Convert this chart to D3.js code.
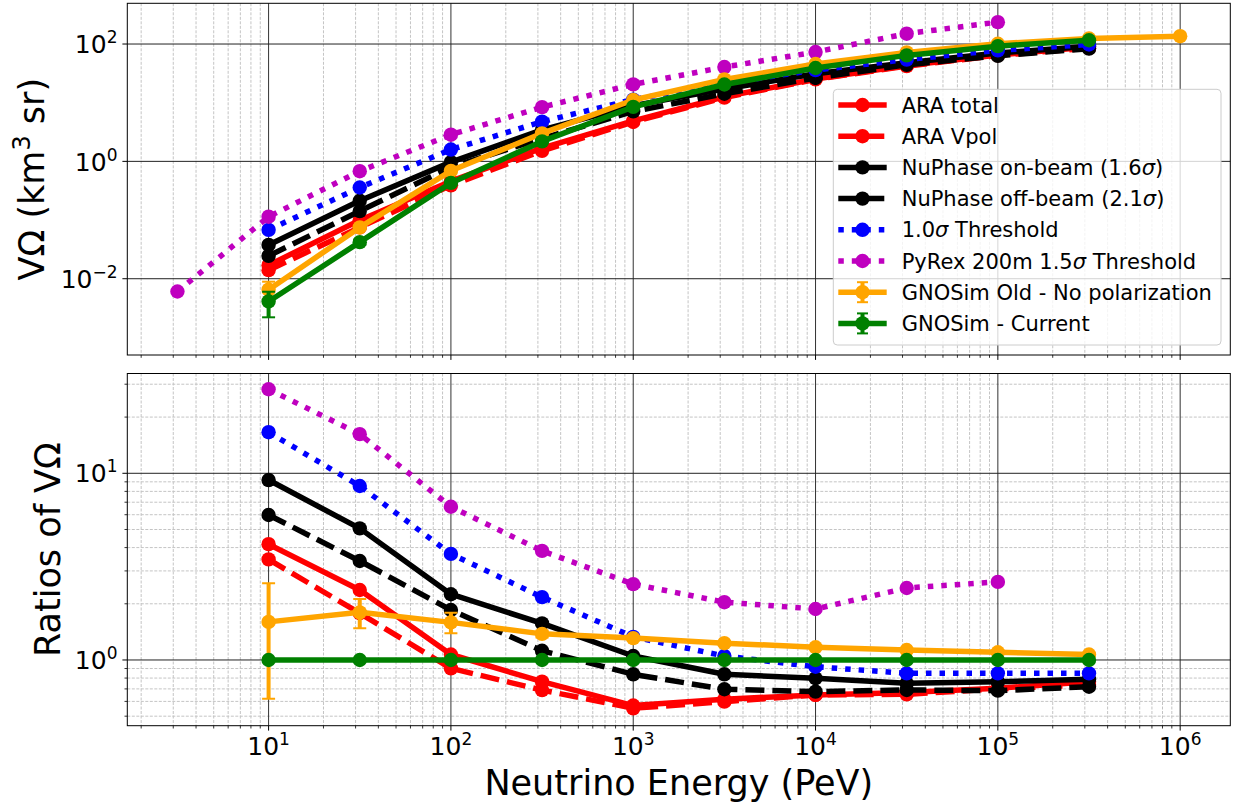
<!DOCTYPE html>
<html>
<head>
<meta charset="utf-8">
<script src="https://cdn.jsdelivr.net/npm/d3@7"></script>
<style>
  body { margin: 0; background: #fff; }
  text { font-family: "DejaVu Sans", sans-serif; fill: #000; }
</style>
</head>
<body>
<script>

// neutrino energies (PeV)
var energies      = [10, 31.62, 100, 316.2, 1000, 3162, 10000, 31620, 100000, 316200];
var energiesPyrex = [3.162, 10, 31.62, 100, 316.2, 1000, 3162, 10000, 31620, 100000];
var energiesOld   = [10, 31.62, 100, 316.2, 1000, 3162, 10000, 31620, 100000, 316200, 1000000];
var ratioEnergiesPyrex = [10, 31.62, 100, 316.2, 1000, 3162, 10000, 31620, 100000];

// V-Omega (km^3 sr)
var araTotal = [0.017, 0.0995, 0.46, 1.68, 4.9, 12.6, 25.4, 43, 65, 89];
var araVpol  = [0.014, 0.075, 0.39, 1.51, 4.7, 12.2, 25.0, 42, 64, 85];
var nuOn     = [0.0377, 0.213, 0.97, 3.44, 8.9, 17.1, 31.1, 48, 70.4, 91.4];
var nuOff    = [0.0245, 0.142, 0.80, 2.45, 7.1, 14.2, 26.4, 44.2, 63, 83.4];
var thr10    = [0.068, 0.359, 1.59, 4.75, 11.3, 21.4, 35.9, 54.3, 78, 98.4];
var pyrex    = [0.00605, 0.114, 0.68, 2.85, 8.4, 20.5, 40.5, 73, 150, 236];
var gnoOld     = [0.0065, 0.0748, 0.69, 3.0, 11.1, 25, 45.6, 72, 101, 124, 136];
var gnoOldErr  = [0.0024, 0.006, 0.03, 0.08, 0.2, 0.4, 0.6, 0.8, 1.0, 1.2, 1.3];
var gnoCur     = [0.0041, 0.042, 0.43, 2.19, 8.5, 20.4, 39, 64, 92, 116];
var gnoCurErr  = [0.0019, 0.004, 0.02, 0.06, 0.15, 0.3, 0.5, 0.7, 0.9, 1.1];

// ratios to GNOSim - Current
var rAraTotal = [4.17, 2.37, 1.07, 0.765, 0.57, 0.616, 0.65, 0.67, 0.705, 0.765];
var rAraVpol  = [3.46, 1.78, 0.902, 0.69, 0.551, 0.598, 0.65, 0.655, 0.70, 0.735];
var rNuOn     = [9.2, 5.07, 2.25, 1.57, 1.05, 0.838, 0.798, 0.75, 0.765, 0.788];
var rNuOff    = [5.98, 3.39, 1.853, 1.12, 0.838, 0.697, 0.677, 0.691, 0.685, 0.719];
var rThr10    = [16.6, 8.55, 3.70, 2.17, 1.33, 1.05, 0.92, 0.848, 0.848, 0.848];
var rPyrex    = [28.2, 16.2, 6.62, 3.84, 2.55, 2.04, 1.876, 2.43, 2.62];
var rGnoOld     = [1.60, 1.80, 1.59, 1.38, 1.31, 1.23, 1.17, 1.13, 1.10, 1.07];
var rGnoOldErr  = [0.98, 0.32, 0.2, 0.06, 0.04, 0.03, 0.02, 0.02, 0.02, 0.02];
var rGnoCur     = [1, 1, 1, 1, 1, 1, 1, 1, 1, 1];

// tick labels
var xTickExp = [1, 2, 3, 4, 5, 6];
var topTickExp = [-2, 0, 2];
var botTickExp = [0, 1];

var series = [
  {name: "ARA total", color: "#ff0000", dash: null, x: energies, v: araTotal, rx: energies, r: rAraTotal},
  {name: "ARA Vpol", color: "#ff0000", dash: "19,8", x: energies, v: araVpol, rx: energies, r: rAraVpol},
  {name: "NuPhase on-beam (1.6σ)", color: "#000000", dash: null, x: energies, v: nuOn, rx: energies, r: rNuOn},
  {name: "NuPhase off-beam (2.1σ)", color: "#000000", dash: "19,8", x: energies, v: nuOff, rx: energies, r: rNuOff},
  {name: "1.0σ Threshold", color: "#0000ff", dash: "5.5,8", x: energies, v: thr10, rx: energies, r: rThr10},
  {name: "PyRex 200m 1.5σ Threshold", color: "#bf00bf", dash: "5.5,8", x: energiesPyrex, v: pyrex, rx: ratioEnergiesPyrex, r: rPyrex},
  {name: "GNOSim Old - No polarization", color: "#ffa500", dash: null, x: energiesOld, v: gnoOld, verr: gnoOldErr, rx: energies, r: rGnoOld, rerr: rGnoOldErr},
  {name: "GNOSim - Current", color: "#008000", dash: null, x: energies, v: gnoCur, verr: gnoCurErr, rx: energies, r: rGnoCur}
];

var W = 1233, H = 806;
var L = 127.3, R = 1230.3;
var LW = 5.5, MR = 7.2;

var svg = d3.select("body").append("svg")
  .attr("width", W).attr("height", H);

var x = d3.scaleLog().domain([Math.pow(10, 0.225), Math.pow(10, 6.275)]).range([L, R]);
var yTop = d3.scaleLog().domain([Math.pow(10, -3.3), Math.pow(10, 2.694)]).range([355, 3.3]);
var yBot = d3.scaleLog().domain([Math.pow(10, -0.352), Math.pow(10, 1.5345)]).range([725.7, 373.5]);

function minorTicks(dom) {
  var out = [];
  var lo = Math.floor(Math.log10(dom[0])), hi = Math.ceil(Math.log10(dom[1]));
  for (var d = lo; d <= hi; d++) {
    for (var k = 2; k <= 9; k++) {
      var v = k * Math.pow(10, d);
      if (v > dom[0] && v < dom[1]) out.push(v);
    }
  }
  return out;
}

function powLabel(sel, exp) {
  sel.append("tspan").text("10");
  sel.append("tspan").attr("dy", -10).attr("font-size", 17)
    .text(exp < 0 ? "\u2212" + (-exp) : String(exp));
}

function panel(y, yExp, yMinor, key, errKey, xKey, showXLabels, id) {
  var t = y.range()[1], b = y.range()[0];
  var g = svg.append("g");
  svg.append("clipPath").attr("id", id).append("rect")
    .attr("x", L).attr("y", t).attr("width", R - L).attr("height", b - t);

  var xMinor = minorTicks(x.domain());
  var xMajor = xTickExp.map(function(e) { return Math.pow(10, e); });
  var yMajor = yExp.map(function(e) { return Math.pow(10, e); });

  // minor grid
  g.selectAll(null).data(xMinor).enter().append("line")
    .attr("x1", function(d) { return x(d); }).attr("x2", function(d) { return x(d); })
    .attr("y1", t).attr("y2", b)
    .attr("stroke", "#c4c4c4").attr("stroke-width", 1).attr("stroke-dasharray", "3,1.5");
  g.selectAll(null).data(yMinor).enter().append("line")
    .attr("y1", function(d) { return y(d); }).attr("y2", function(d) { return y(d); })
    .attr("x1", L).attr("x2", R)
    .attr("stroke", "#c4c4c4").attr("stroke-width", 1).attr("stroke-dasharray", "3,1.5");

  // major grid
  g.selectAll(null).data(xMajor).enter().append("line")
    .attr("x1", function(d) { return x(d); }).attr("x2", function(d) { return x(d); })
    .attr("y1", t).attr("y2", b)
    .attr("stroke", "#333").attr("stroke-width", 1);
  g.selectAll(null).data(yMajor).enter().append("line")
    .attr("y1", function(d) { return y(d); }).attr("y2", function(d) { return y(d); })
    .attr("x1", L).attr("x2", R)
    .attr("stroke", "#222").attr("stroke-width", 1);

  // data
  var dg = g.append("g").attr("clip-path", "url(#" + id + ")");
  var line = d3.line()
    .x(function(d) { return x(d.e); })
    .y(function(d) { return y(d.v); });

  series.forEach(function(s) {
    var pts = s[xKey].map(function(e, i) {
      return {e: e, v: s[key][i], err: s[errKey] ? s[errKey][i] : 0};
    });
    if (s[errKey]) {
      var eb = dg.append("g").attr("stroke", s.color);
      eb.selectAll(null).data(pts).enter().append("line")
        .attr("x1", function(d) { return x(d.e); }).attr("x2", function(d) { return x(d.e); })
        .attr("y1", function(d) { return y(d.v - d.err); })
        .attr("y2", function(d) { return y(d.v + d.err); })
        .attr("stroke-width", 4);
      [-1, 1].forEach(function(sg) {
        eb.selectAll(null).data(pts).enter().append("line")
          .attr("x1", function(d) { return x(d.e) - 6.5; })
          .attr("x2", function(d) { return x(d.e) + 6.5; })
          .attr("y1", function(d) { return y(d.v + sg * d.err); })
          .attr("y2", function(d) { return y(d.v + sg * d.err); })
          .attr("stroke-width", 2);
      });
    }
    dg.append("path").datum(pts)
      .attr("d", line)
      .attr("fill", "none")
      .attr("stroke", s.color)
      .attr("stroke-width", LW)
      .attr("stroke-dasharray", s.dash)
      .attr("stroke-linejoin", "round");
    dg.selectAll(null).data(pts).enter().append("circle")
      .attr("cx", function(d) { return x(d.e); })
      .attr("cy", function(d) { return y(d.v); })
      .attr("r", MR)
      .attr("fill", s.color);
  });

  // frame
  g.append("rect").attr("x", L).attr("y", t).attr("width", R - L).attr("height", b - t)
    .attr("fill", "none").attr("stroke", "#000").attr("stroke-width", 1);

  // ticks
  g.selectAll(null).data(xMajor).enter().append("line")
    .attr("x1", function(d) { return x(d); }).attr("x2", function(d) { return x(d); })
    .attr("y1", b).attr("y2", b + 4.9).attr("stroke", "#000");
  g.selectAll(null).data(xMinor).enter().append("line")
    .attr("x1", function(d) { return x(d); }).attr("x2", function(d) { return x(d); })
    .attr("y1", b).attr("y2", b + 2.8).attr("stroke", "#000").attr("stroke-width", 0.8);
  g.selectAll(null).data(yMajor).enter().append("line")
    .attr("y1", function(d) { return y(d); }).attr("y2", function(d) { return y(d); })
    .attr("x1", L - 4.9).attr("x2", L).attr("stroke", "#000");
  g.selectAll(null).data(yMinor).enter().append("line")
    .attr("y1", function(d) { return y(d); }).attr("y2", function(d) { return y(d); })
    .attr("x1", L - 2.8).attr("x2", L).attr("stroke", "#000").attr("stroke-width", 0.8);

  // y tick labels
  yExp.forEach(function(e) {
    var tx = g.append("text").attr("x", L - 9.8).attr("y", y(Math.pow(10, e)) + 9.2)
      .attr("text-anchor", "end").attr("font-size", 25);
    powLabel(tx, e);
  });

  if (showXLabels) {
    xTickExp.forEach(function(e) {
      var tx = g.append("text").attr("x", x(Math.pow(10, e))).attr("y", 755)
        .attr("text-anchor", "middle").attr("font-size", 25);
      powLabel(tx, e);
    });
  }
}

var botMinor = [0.5, 0.6, 0.7, 0.8, 0.9, 2, 3, 4, 5, 6, 7, 8, 9, 20, 30];
panel(yTop, topTickExp, [], "v", "verr", "x", false, "clipTop");
panel(yBot, botTickExp, botMinor, "r", "rerr", "rx", true, "clipBot");

// axis labels
var yl1 = svg.append("text")
  .attr("transform", "translate(43.5," + ((3.3 + 355) / 2) + ") rotate(-90)")
  .attr("text-anchor", "middle").attr("font-size", 35);
yl1.append("tspan").text("VΩ (km");
yl1.append("tspan").attr("dy", -14).attr("font-size", 24).text("3");
yl1.append("tspan").attr("dy", 14).text(" sr)");

svg.append("text")
  .attr("transform", "translate(60," + ((373.5 + 725.7) / 2) + ") rotate(-90)")
  .attr("text-anchor", "middle").attr("font-size", 35)
  .text("Ratios of VΩ");

svg.append("text")
  .attr("x", (L + R) / 2).attr("y", 795)
  .attr("text-anchor", "middle").attr("font-size", 35)
  .text("Neutrino Energy (PeV)");

// legend
var lg = svg.append("g");
lg.append("rect").attr("x", 833.3).attr("y", 89.3).attr("width", 387.7).attr("height", 255.7)
  .attr("rx", 4).attr("fill", "#fff").attr("fill-opacity", 0.8)
  .attr("stroke", "#ccc").attr("stroke-width", 1);

series.forEach(function(s, i) {
  var cy = 105 + i * 31.2;
  var row = lg.append("g");
  if (s.verr) {
    row.append("line").attr("x1", 862.5).attr("x2", 862.5).attr("y1", cy - 10).attr("y2", cy + 10)
      .attr("stroke", s.color).attr("stroke-width", 4);
    [-10, 10].forEach(function(o) {
      row.append("line").attr("x1", 857).attr("x2", 868).attr("y1", cy + o).attr("y2", cy + o)
        .attr("stroke", s.color).attr("stroke-width", 2);
    });
  }
  row.append("line").attr("x1", 838.3).attr("x2", 886.7).attr("y1", cy).attr("y2", cy)
    .attr("stroke", s.color).attr("stroke-width", LW).attr("stroke-dasharray", s.dash);
  row.append("circle").attr("cx", 862.5).attr("cy", cy).attr("r", MR).attr("fill", s.color);
  var tx = row.append("text").attr("x", 901.7).attr("y", cy + 7.6).attr("font-size", 21);
  var parts = s.name.split("σ");
  parts.forEach(function(p, j) {
    if (j > 0) tx.append("tspan").attr("font-style", "italic").text("σ");
    tx.append("tspan").text(p);
  });
});

</script>
</body>
</html>
